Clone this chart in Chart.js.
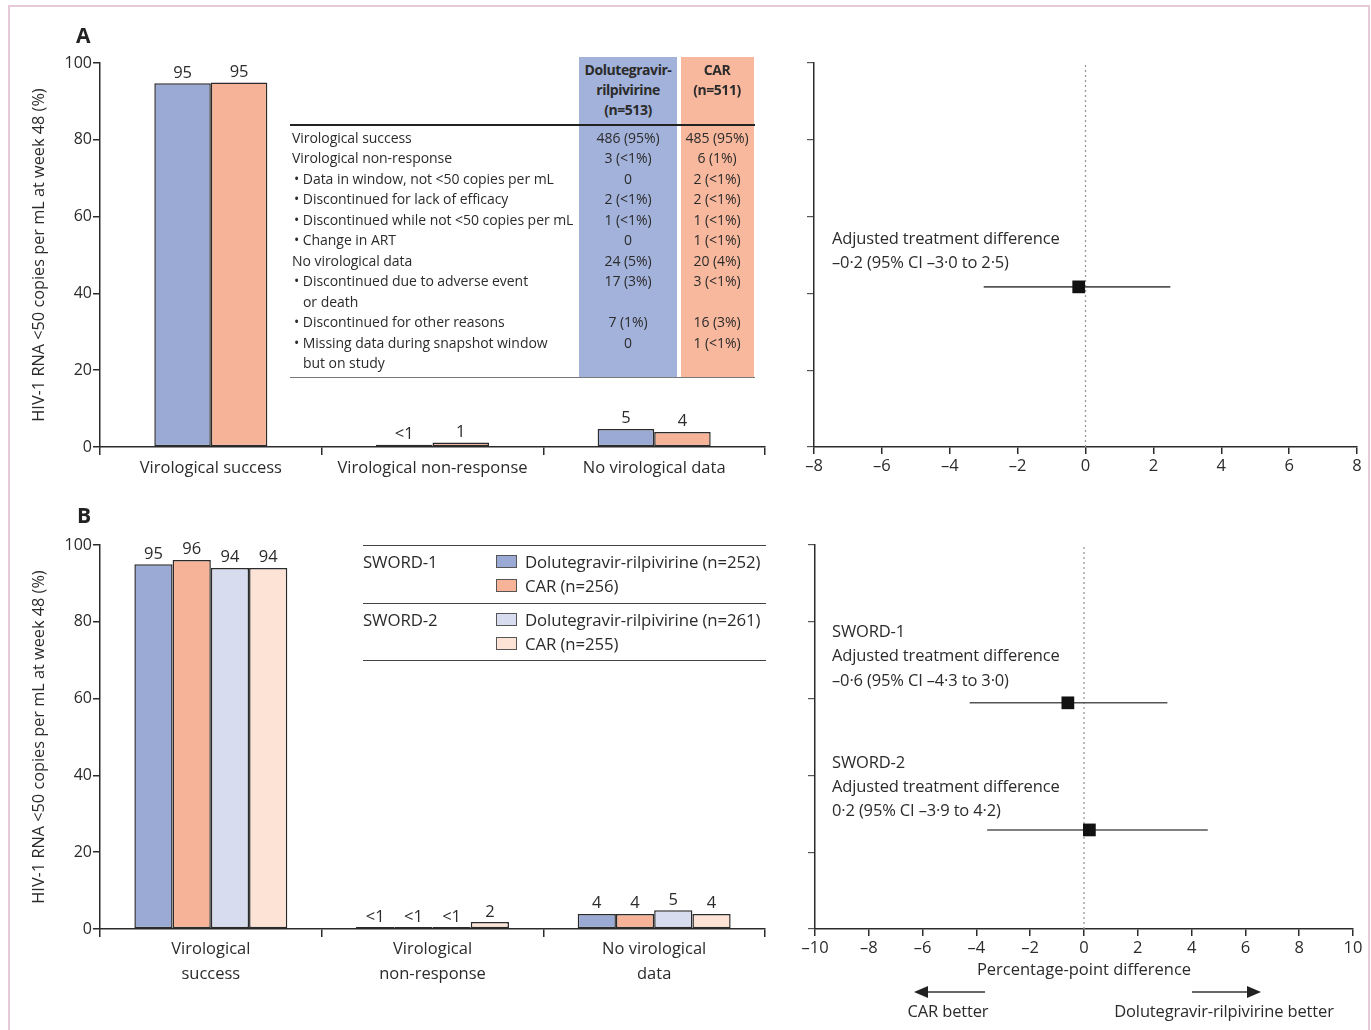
<!DOCTYPE html>
<html lang="en">
<head>
<meta charset="UTF-8" />
<title>SWORD-1 and SWORD-2: week 48 snapshot outcomes</title>
<script src="https://cdn.jsdelivr.net/npm/chart.js"></script>
<style>
  body {
    margin: 0;
    width: 1371px;
    height: 1030px;
    position: relative;
    overflow: hidden;
    background: #fff;
    font-family: 'Open Sans', sans-serif;
    color: #2b2b2b;
  }
  #frame {
    position: absolute;
    left: 8px; top: 5px;
    width: 1362px; height: 1040px;
    border: 2px solid #e6cad8;
    box-sizing: border-box;
  }
  canvas { position: absolute; }
  .t {
    position: absolute;
    white-space: nowrap;
    line-height: 1;
    transform: translateY(-50%);
  }
  .c { transform: translate(-50%, -50%); }
  .panel { font-size: 21px; font-weight: bold; color: #222; }
  .note { font-size: 16.5px; letter-spacing: -0.15px; }
  .tbl { font-size: 14px; letter-spacing: -0.05px; }
  .hd { font-size: 14px; font-weight: bold; letter-spacing: -0.45px; }
  .rule { position: absolute; height: 0; border-top: 1.5px solid #444; }
  .col { position: absolute; }
  .sw { position: absolute; width: 19px; height: 11px; border: 1.5px solid #555; }
  .leg { font-size: 16.8px; letter-spacing: -0.1px; }
</style>
</head>
<body>
<div id="frame"></div>

<canvas id="barA" width="760" height="460" style="left:20px;top:40px"></canvas>
<canvas id="forestA" width="591" height="460" style="left:780px;top:40px"></canvas>
<canvas id="barB" width="760" height="470" style="left:20px;top:520px"></canvas>
<canvas id="forestB" width="591" height="470" style="left:780px;top:520px"></canvas>

<div class="t panel" style="left:76px;top:35px">A</div>
<div class="t panel" style="left:77px;top:515px">B</div>

<!-- panel A table -->
<div class="col" style="left:579px;top:57px;width:98px;height:320px;background:#a3b2da"></div>
<div class="col" style="left:681px;top:57px;width:73px;height:320px;background:#f8b89d"></div>
<div class="t hd c" style="left:628px;top:70px">Dolutegravir-</div>
<div class="t hd c" style="left:628px;top:90px">rilpivirine</div>
<div class="t hd c" style="left:628px;top:110px">(n=513)</div>
<div class="t hd c" style="left:717px;top:70px">CAR</div>
<div class="t hd c" style="left:717px;top:90px">(n=511)</div>
<div class="rule" style="left:290px;top:124px;width:465px;border-top-width:2px;border-color:#222"></div>
<div class="rule" style="left:290px;top:377px;width:465px;border-color:#777"></div>
<div id="tableA"></div>

<!-- panel A forest annotation -->
<div class="t note" style="left:832px;top:238px">Adjusted treatment difference</div>
<div class="t note" style="left:832px;top:262px">–0·2 (95% CI –3·0 to 2·5)</div>

<!-- panel B legend -->
<div class="rule" style="left:363px;top:545px;width:403px"></div>
<div class="rule" style="left:363px;top:603px;width:403px"></div>
<div class="rule" style="left:363px;top:660px;width:403px"></div>
<div id="legendB"></div>

<!-- panel B forest annotations -->
<div class="t note" style="left:832px;top:631px">SWORD-1</div>
<div class="t note" style="left:832px;top:655px">Adjusted treatment difference</div>
<div class="t note" style="left:832px;top:680px">–0·6 (95% CI –4·3 to 3·0)</div>
<div class="t note" style="left:832px;top:762px">SWORD-2</div>
<div class="t note" style="left:832px;top:786px">Adjusted treatment difference</div>
<div class="t note" style="left:832px;top:810px">0·2 (95% CI –3·9 to 4·2)</div>

<svg style="position:absolute;left:900px;top:980px" width="380" height="24">
  <line x1="85" y1="12" x2="26" y2="12" stroke="#333" stroke-width="1.5" />
  <polygon points="14,12 28,6 28,18" fill="#222" />
  <line x1="292" y1="12" x2="348" y2="12" stroke="#333" stroke-width="1.5" />
  <polygon points="361,12 347,6 347,18" fill="#222" />
</svg>
<div class="t note c" style="left:948px;top:1011px">CAR better</div>
<div class="t note c" style="left:1224px;top:1011px">Dolutegravir-rilpivirine better</div>

<script>
  // ---- Panel A: pooled SWORD-1 + SWORD-2 ----
  const categoriesA = ['Virological success', 'Virological non-response', 'No virological data'];
  const dtgA = [94.7, 0.6, 4.7];
  const carA = [94.9, 1.2, 3.9];
  const dtgLabelsA = ['95', '<1', '5'];
  const carLabelsA = ['95', '1', '4'];

  const rowLabels = [
    'Virological success',
    'Virological non-response',
    '• Data in window, not <50 copies per mL',
    '• Discontinued for lack of efficacy',
    '• Discontinued while not <50 copies per mL',
    '• Change in ART',
    'No virological data',
    '• Discontinued due to adverse event',
    '   or death',
    '• Discontinued for other reasons',
    '• Missing data during snapshot window',
    '   but on study'
  ];
  const rowDtg = ['486 (95%)', '3 (<1%)', '0', '2 (<1%)', '1 (<1%)', '0', '24 (5%)', '17 (3%)', '', '7 (1%)', '0', ''];
  const rowCar = ['485 (95%)', '6 (1%)', '2 (<1%)', '2 (<1%)', '1 (<1%)', '1 (<1%)', '20 (4%)', '3 (<1%)', '', '16 (3%)', '1 (<1%)', ''];

  const estA = [-0.2];
  const loA = [-3.0];
  const hiA = [2.5];
  const rowA = [41.7];
  const ticksA = [-8, 8];

  // ---- Panel B: by study ----
  const categoriesB = [['Virological', 'success'], ['Virological', 'non-response'], ['No virological', 'data']];
  const dtg1B = [95.0, 0.5, 3.9];
  const car1B = [96.1, 0.5, 3.9];
  const dtg2B = [94.0, 0.5, 4.9];
  const car2B = [94.0, 1.8, 3.9];
  const dtg1LabelsB = ['95', '<1', '4'];
  const car1LabelsB = ['96', '<1', '4'];
  const dtg2LabelsB = ['94', '<1', '5'];
  const car2LabelsB = ['94', '2', '4'];
  const legendGroups = ['SWORD-1', 'SWORD-2'];
  const legendNames = [
    ['Dolutegravir-rilpivirine (n=252)', 'CAR (n=256)'],
    ['Dolutegravir-rilpivirine (n=261)', 'CAR (n=255)']
  ];

  const estB = [-0.6, 0.2];
  const loB = [-4.25, -3.6];
  const hiB = [3.1, 4.6];
  const rowB = [58.9, 25.8];
  const ticksB = [-10, 10];

  const yTitle = 'HIV-1 RNA <50 copies per mL at week 48 (%)';
  const ink = '#2b2b2b';
  const blue = '#9aaad5', orange = '#f6b397', paleBlue = '#d7dcee', palePeach = '#fde3d5';

  Chart.defaults.font.family = "'Open Sans', sans-serif";
  Chart.defaults.color = ink;

  // table text
  const esc = s => s.replace(/</g, '&lt;');
  const tbl = document.getElementById('tableA');
  rowLabels.forEach((lab, i) => {
    const y = 138 + i * 20.45;
    const indent = lab.startsWith('   ') ? 303 : (lab.startsWith('•') ? 294 : 292);
    tbl.insertAdjacentHTML('beforeend',
      `<div class="t tbl" style="left:${indent}px;top:${y}px">${esc(lab.trim())}</div>` +
      `<div class="t tbl c" style="left:628px;top:${y}px">${esc(rowDtg[i])}</div>` +
      `<div class="t tbl c" style="left:717px;top:${y}px">${esc(rowCar[i])}</div>`);
  });

  // legend B
  const legB = document.getElementById('legendB');
  const swatches = [[blue, orange], [paleBlue, palePeach]];
  legendGroups.forEach((g, i) => {
    const y0 = 562 + i * 58;
    legB.insertAdjacentHTML('beforeend', `<div class="t leg" style="left:363px;top:${y0}px">${g}</div>`);
    legendNames[i].forEach((n, j) => {
      const y = y0 + j * 24;
      legB.insertAdjacentHTML('beforeend',
        `<div class="sw" style="left:496px;top:${y - 7}px;background:${swatches[i][j]}"></div>` +
        `<div class="t leg" style="left:525px;top:${y}px">${n}</div>`);
    });
  });

  // value labels on top of bars
  const barLabels = {
    id: 'barLabels',
    afterDatasetsDraw(chart) {
      const ctx = chart.ctx;
      ctx.save();
      ctx.font = "16.5px 'Open Sans', sans-serif";
      ctx.fillStyle = ink;
      ctx.textAlign = 'center';
      ctx.textBaseline = 'bottom';
      chart.data.datasets.forEach((ds, i) => {
        chart.getDatasetMeta(i).data.forEach((bar, j) => {
          ctx.fillText(ds.valueLabels[j], bar.x, bar.y - 2);
        });
      });
      ctx.restore();
    }
  };

  function barOptions(padTop, xHeight, catPct, lineHeight, tickPad) {
    return {
      responsive: false,
      animation: false,
      layout: { padding: { top: padTop, right: 15, left: 0, bottom: 0 } },
      plugins: { legend: { display: false }, tooltip: { enabled: false } },
      scales: {
        x: {
          grid: { drawOnChartArea: false, tickLength: 8, color: ink, lineWidth: 1.5, offset: true },
          border: { color: ink, width: 1.5 },
          ticks: { font: { size: 16.5, lineHeight: lineHeight }, color: ink, padding: tickPad, maxRotation: 0, autoSkip: false },
          afterFit: s => { s.height = xHeight; }
        },
        y: {
          min: 0, max: 100,
          ticks: { stepSize: 20, font: { size: 16 }, color: ink, padding: 1 },
          grid: { drawOnChartArea: false, tickLength: 7, color: ink, lineWidth: 1.5 },
          border: { color: ink, width: 1.5 },
          title: { display: true, text: yTitle, font: { size: 16.3 }, color: ink, padding: { top: 10, bottom: 0 } },
          afterFit: s => { s.width = 80; }
        }
      },
      datasets: { bar: { categoryPercentage: catPct, barPercentage: 1.0, borderSkipped: false } }
    };
  }

  function barSet(data, color, labels) {
    return { data: data, backgroundColor: color, borderColor: ink, borderWidth: 1.5, valueLabels: labels };
  }

  new Chart(document.getElementById('barA'), {
    type: 'bar',
    data: {
      labels: categoriesA,
      datasets: [barSet(dtgA, blue, dtgLabelsA), barSet(carA, orange, carLabelsA)]
    },
    options: barOptions(23, 53, 0.51, 1.2, 3),
    plugins: [barLabels]
  });

  new Chart(document.getElementById('barB'), {
    type: 'bar',
    data: {
      labels: categoriesB,
      datasets: [
        barSet(dtg1B, blue, dtg1LabelsB),
        barSet(car1B, orange, car1LabelsB),
        barSet(dtg2B, paleBlue, dtg2LabelsB),
        barSet(car2B, palePeach, car2LabelsB)
      ]
    },
    options: barOptions(25, 61, 0.69, 1.5, 0),
    plugins: [barLabels]
  });

  const fmt = v => (v < 0 ? '–' + Math.abs(v) : String(v));

  function forestChart(id, est, lo, hi, rows, range, padRight, yWidth, xHeight, xTitle) {
    const datasets = [{
      data: est.map((e, i) => ({ x: e, y: rows[i] })),
      pointStyle: 'rect', pointRadius: 9, backgroundColor: '#111', borderColor: '#111', borderWidth: 0
    }];
    est.forEach((e, i) => {
      datasets.push({
        data: [{ x: lo[i], y: rows[i] }, { x: hi[i], y: rows[i] }],
        showLine: true, borderColor: '#555', borderWidth: 1.6, pointRadius: 0
      });
    });
    datasets.push({
      data: [{ x: 0, y: 0 }, { x: 0, y: 100 }],
      showLine: true, borderColor: '#999', borderWidth: 1.3, borderDash: [2, 3], pointRadius: 0
    });
    new Chart(document.getElementById(id), {
      type: 'scatter',
      data: { datasets: datasets },
      options: {
        responsive: false,
        animation: false,
        layout: { padding: { top: xTitle ? 25 : 23, right: padRight, left: 0, bottom: 0 } },
        plugins: { legend: { display: false }, tooltip: { enabled: false } },
        scales: {
          x: {
            type: 'linear', min: range[0], max: range[1],
            ticks: { stepSize: 2, font: { size: 16.5 }, color: ink, padding: 2, callback: v => fmt(v) },
            grid: { drawOnChartArea: false, tickLength: 7, color: ink, lineWidth: 1.5 },
            border: { color: ink, width: 1.5 },
            title: { display: !!xTitle, text: xTitle || '', font: { size: 16.5 }, color: ink, padding: { top: 0, bottom: 10 } },
            afterFit: s => { s.height = xHeight; }
          },
          y: {
            type: 'linear', min: 0, max: 100,
            ticks: { stepSize: 20, padding: 0, callback: () => '' },
            grid: { drawOnChartArea: false, tickLength: 7, color: '#555', lineWidth: 1.2 },
            border: { color: ink, width: 1.5 },
            afterFit: s => { s.width = yWidth; }
          }
        }
      }
    });
  }

  forestChart('forestA', estA, loA, hiA, rowA, ticksA, 14, 34, 53, null);
  forestChart('forestB', estB, loB, hiB, rowB, ticksB, 18, 35, 61, 'Percentage-point difference');
</script>
</body>
</html>
